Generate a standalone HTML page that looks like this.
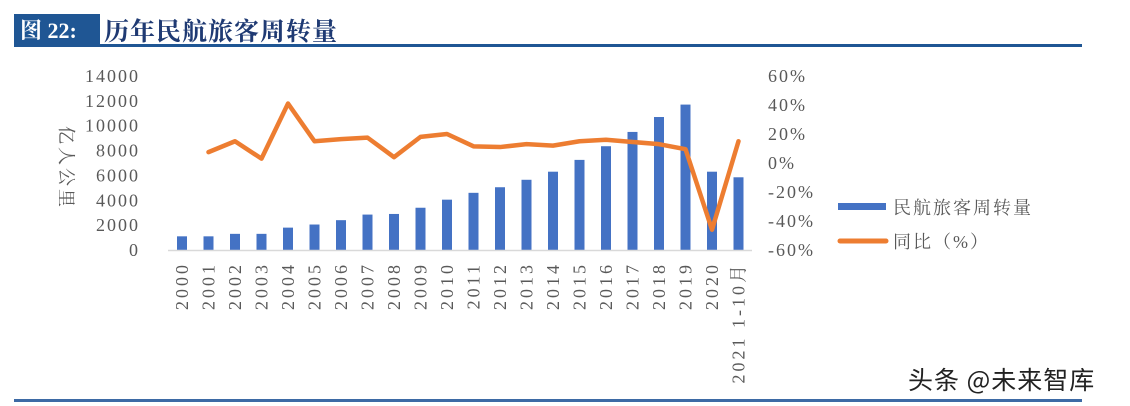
<!DOCTYPE html>
<html><head><meta charset="utf-8"><style>
body{margin:0;background:#fff;width:1130px;height:406px;overflow:hidden}
svg{display:block}
.ax{font-family:"Liberation Serif","Noto Serif CJK SC",serif;font-size:18px;fill:#595959}
.lg{font-family:"Liberation Serif","Noto Serif CJK SC",serif;font-size:18px;fill:#595959;letter-spacing:2px}
</style></head><body>
<svg width="1130" height="406">
<rect x="14" y="14" width="86" height="31" fill="#1f5694"/>
<text x="20" y="38" font-family="Liberation Serif,'Noto Serif CJK SC',serif" font-size="22" font-weight="bold" fill="#fff">图 22:</text>
<text x="104" y="40" font-family="Liberation Serif,'Noto Serif CJK SC',serif" font-size="25" font-weight="bold" fill="#1f3a73" letter-spacing="1">历年民航旅客周转量</text>
<rect x="14" y="44" width="1068" height="3" fill="#1f5694"/>
<rect x="14" y="399" width="1068" height="3" fill="#3d6aa5"/>
<g id="plot"></g>
<text transform="translate(60,168) rotate(90)" text-anchor="middle" class="ax" font-size="24" letter-spacing="3">亿人公里</text>
<rect x="838" y="203" width="48" height="7" fill="#4472c4"/>
<text x="893" y="214" class="lg">民航旅客周转量</text>
<line x1="840" y1="241" x2="886" y2="241" stroke="#ed7d31" stroke-width="5" stroke-linecap="round"/>
<text x="893" y="248" class="lg">同比（%）</text>
<text x="908" y="389" font-family="'Noto Sans CJK SC',sans-serif" font-size="25" fill="#222" letter-spacing="1">头条 @未来智库</text>
</svg>
<script>
const categories=["2000","2001","2002","2003","2004","2005","2006","2007","2008","2009","2010","2011","2012","2013","2014","2015","2016","2017","2018","2019","2020","2021 1-10月"];
const volume=[1100,1100,1300,1300,1800,2050,2400,2850,2900,3400,4050,4600,5050,5650,6300,7250,8350,9500,10700,11700,6300,5850];
const growth=[null,7.5,15,3,41,15,16.5,17.5,4,18,20,11.5,11,13,12,15,16,14.5,13,9.5,-46,15];
const leftTicks=[0,2000,4000,6000,8000,10000,12000,14000];
const rightTicks=["60%","40%","20%","0%","-20%","-40%","-60%"];
const NS="http://www.w3.org/2000/svg";
const g=document.getElementById('plot');
const pTop=76,pBot=250,x0=182,step=26.5;
const yL=v=>pBot-(v/14000)*(pBot-pTop);
const yR=p=>pBot-((p+60)/120)*(pBot-pTop);
const xC=i=>x0+i*step;
function mk(t,a){const e=document.createElementNS(NS,t);for(const k in a)e.setAttribute(k,a[k]);g.appendChild(e);return e;}
leftTicks.forEach(v=>{const t=mk('text',{x:140,y:yL(v)+6,'text-anchor':'end',class:'ax','letter-spacing':'2'});t.textContent=v;

});
rightTicks.forEach((s,i)=>{const t=mk('text',{x:768,y:pTop+i*(pBot-pTop)/6+6,class:'ax','letter-spacing':'2'});t.textContent=s;

});
volume.forEach((v,i)=>{const r=mk('rect',{x:xC(i)-5,y:yL(v),width:10,height:pBot-yL(v),fill:'#4472c4'});

});
const ax=mk('line',{x1:168,x2:752,y1:pBot+.5,y2:pBot+.5,stroke:'#d9d9d9','stroke-width':1.5});


let d='';growth.forEach((p,i)=>{if(p===null)return;d+=(d?'L':'M')+xC(i)+' '+yR(p);});
const pl=mk('path',{d:d,fill:'none',stroke:'#ed7d31','stroke-width':4.5,'stroke-linejoin':'round','stroke-linecap':'round'});


categories.forEach((c,i)=>{const t=mk('text',{transform:`translate(${xC(i)+6},262) rotate(-90)`,'text-anchor':'end',class:'ax','letter-spacing':'3'});t.textContent=c;

});
</script>
</body></html>
